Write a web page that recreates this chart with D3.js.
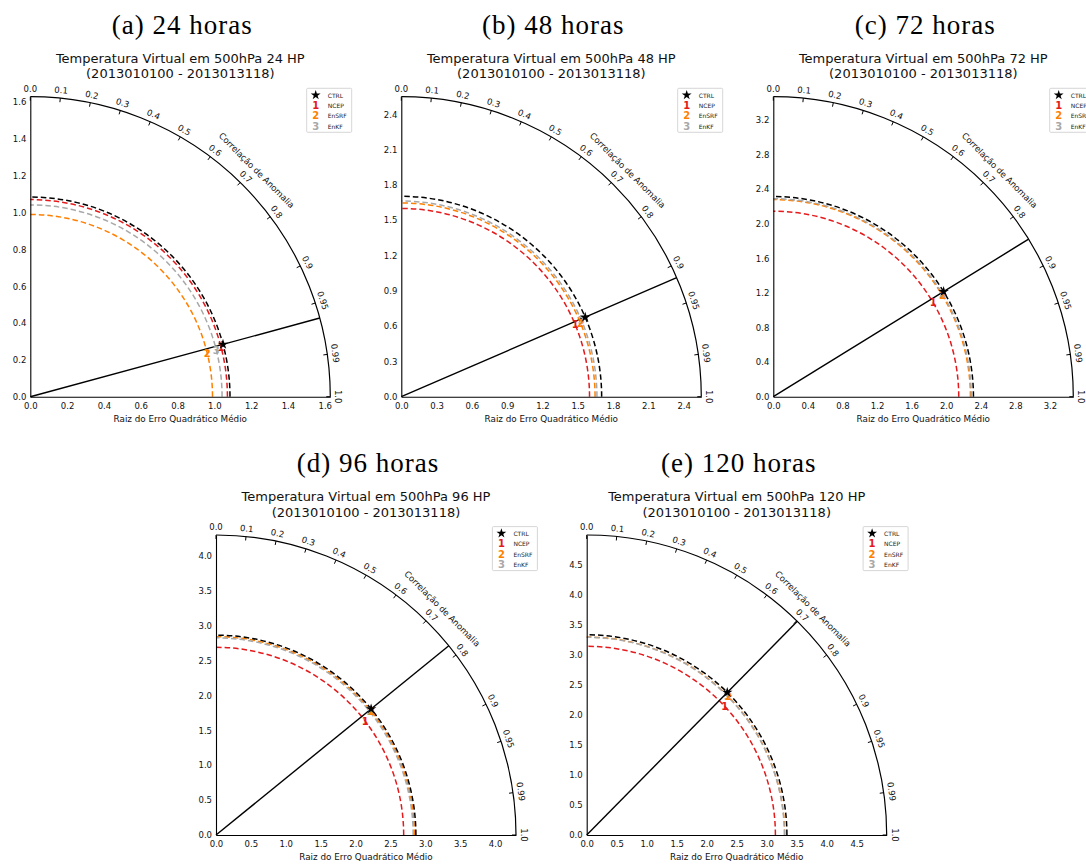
<!DOCTYPE html>
<html>
<head>
<meta charset="utf-8">
<script src="https://cdn.jsdelivr.net/npm/d3@7"></script>
<style>
  html, body { margin: 0; padding: 0; background: #fff; }
  svg { display: block; }
</style>
</head>
<body>
<script>
// ---------------- DATA ----------------
const captions = ["(a) 24 horas", "(b) 48 horas", "(c) 72 horas", "(d) 96 horas", "(e) 120 horas"];
const titles = [
  "Temperatura Virtual em 500hPa 24 HP",
  "Temperatura Virtual em 500hPa 48 HP",
  "Temperatura Virtual em 500hPa 72 HP",
  "Temperatura Virtual em 500hPa 96 HP",
  "Temperatura Virtual em 500hPa 120 HP"
];
const subtitle = "(2013010100 - 2013013118)";
const seriesNames = ["CTRL", "NCEP", "EnSRF", "EnKF"];
const seriesMarks = ["star", "1", "2", "3"];

// standard deviation (radius) and anomaly correlation per panel
const ctrlStd   = [1.085, 1.703, 2.315, 2.865, 3.337];
const ctrlCorr  = [0.965, 0.918, 0.851, 0.776, 0.702];
const ncepStd   = [1.071, 1.600, 2.145, 2.690, 3.145];
const ncepCorr  = [0.968, 0.924, 0.862, 0.795, 0.731];
const ensrfStd  = [0.990, 1.647, 2.280, 2.843, 3.300];
const ensrfCorr = [0.971, 0.925, 0.858, 0.784, 0.716];
const enkfStd   = [1.042, 1.663, 2.290, 2.826, 3.295];
const enkfCorr  = [0.970, 0.920, 0.855, 0.781, 0.712];

const axisMax = [1.63, 2.55, 3.47, 4.30, 5.00];
const radialTicks = [
  [0.0, 0.2, 0.4, 0.6, 0.8, 1.0, 1.2, 1.4, 1.6],
  [0.0, 0.3, 0.6, 0.9, 1.2, 1.5, 1.8, 2.1, 2.4],
  [0.0, 0.4, 0.8, 1.2, 1.6, 2.0, 2.4, 2.8, 3.2],
  [0.0, 0.5, 1.0, 1.5, 2.0, 2.5, 3.0, 3.5, 4.0],
  [0.0, 0.5, 1.0, 1.5, 2.0, 2.5, 3.0, 3.5, 4.0, 4.5]
];
const corrTicks = [0.0, 0.1, 0.2, 0.3, 0.4, 0.5, 0.6, 0.7, 0.8, 0.9, 0.95, 0.99, 1.0];
const corrTickLabels = ["0.0", "0.1", "0.2", "0.3", "0.4", "0.5", "0.6", "0.7", "0.8", "0.9", "0.95", "0.99", "1.0"];
const xLabel = "Raiz do Erro Quadrático Médio";
const corrLabel = "Correlação de Anomalia";

// ---------------- STYLE / LAYOUT ----------------
const colors = { CTRL: "#000000", NCEP: "#e41a1c", EnSRF: "#ff7f00", EnKF: "#a8a8a8" };
const origins = [[30.3, 396.7], [401.3, 396.7], [773.3, 396.7], [216, 835], [586.7, 835]];
const R = 300;
const sansFont = "'DejaVu Sans', sans-serif";

const svg = d3.select("body").append("svg")
  .attr("width", 1086).attr("height", 864)
  .attr("viewBox", "0 0 1086 864");
svg.append("rect").attr("width", 1086).attr("height", 864).attr("fill", "#fff");

function quarterArc(rr) {
  const p = d3.path();
  p.moveTo(rr, 0);
  p.arc(0, 0, rr, 0, -Math.PI / 2, true);
  return p.toString();
}

captions.forEach((cap, i) => {
  const [ox, oy] = origins[i];
  const g = svg.append("g").attr("transform", `translate(${ox},${oy})`);
  const r = d3.scaleLinear().domain([0, axisMax[i]]).range([0, R]);
  const yS = d3.scaleLinear().domain([0, axisMax[i]]).range([0, -R]);
  const pos = (s, c) => {
    const th = Math.acos(c);
    return [r(s) * Math.cos(th), -r(s) * Math.sin(th)];
  };

  // caption and title
  g.append("text").attr("x", 152).attr("y", -363)
    .attr("text-anchor", "middle")
    .attr("font-family", "'Liberation Serif', serif")
    .attr("font-size", 27).attr("letter-spacing", 1)
    .attr("fill", "#000").text(cap);
  g.append("text").attr("x", 150).attr("y", -334)
    .attr("text-anchor", "middle").attr("font-family", sansFont)
    .attr("font-size", 13).attr("fill", "#111").text(titles[i]);
  g.append("text").attr("x", 150).attr("y", -318.5)
    .attr("text-anchor", "middle").attr("font-family", sansFont)
    .attr("font-size", 13).attr("fill", "#111").text(subtitle);

  // std dashed arcs
  const arcSeries = [
    ["NCEP", ncepStd[i]], ["EnSRF", ensrfStd[i]], ["EnKF", enkfStd[i]], ["CTRL", ctrlStd[i]]
  ];
  arcSeries.forEach(([name, s]) => {
    g.append("path").attr("d", quarterArc(r(s)))
      .attr("fill", "none").attr("stroke", colors[name])
      .attr("stroke-width", 1.5).attr("stroke-dasharray", "5.5,3");
  });

  // outer arc
  g.append("path").attr("d", quarterArc(R))
    .attr("fill", "none").attr("stroke", "#000").attr("stroke-width", 1.2);

  // straight axes
  const xAx = g.append("g").call(d3.axisBottom(r).tickValues(radialTicks[i])
    .tickFormat(d3.format(".1f")).tickSize(0).tickPadding(6.3));
  const yAx = g.append("g").call(d3.axisLeft(yS).tickValues(radialTicks[i])
    .tickFormat(d3.format(".1f")).tickSize(0).tickPadding(4));
  [xAx, yAx].forEach(ax => {
    ax.select(".domain").attr("stroke", "#000").attr("stroke-width", 1.1);
    ax.selectAll("text").attr("font-family", sansFont).attr("font-size", 8.5).attr("fill", "#111");
  });

  g.append("text").attr("x", 150).attr("y", 25)
    .attr("text-anchor", "middle").attr("font-family", sansFont)
    .attr("font-size", 8.8).attr("fill", "#111").text(xLabel);

  // correlation ticks and labels
  corrTicks.forEach((c, k) => {
    const th = Math.acos(c);
    const cs = Math.cos(th), sn = Math.sin(th);
    g.append("line")
      .attr("x1", R * cs).attr("y1", -R * sn)
      .attr("x2", (R - 4) * cs).attr("y2", -(R - 4) * sn)
      .attr("stroke", "#000").attr("stroke-width", 1);
    const lr = R + 8;
    const rot = 90 - th * 180 / Math.PI;
    g.append("text")
      .attr("transform", `translate(${lr * cs},${-lr * sn}) rotate(${rot})`)
      .attr("text-anchor", "middle").attr("dominant-baseline", "central")
      .attr("font-family", sansFont).attr("font-size", 8.5).attr("fill", "#111")
      .text(corrTickLabels[k]);
  });
  g.append("text")
    .attr("transform", `translate(${320 * Math.SQRT1_2},${-320 * Math.SQRT1_2}) rotate(45)`)
    .attr("text-anchor", "middle").attr("dominant-baseline", "central")
    .attr("font-family", sansFont).attr("font-size", 8.6).attr("fill", "#111")
    .text(corrLabel);

  // correlation line through CTRL
  const thC = Math.acos(ctrlCorr[i]);
  g.append("line").attr("x1", 0).attr("y1", 0)
    .attr("x2", R * Math.cos(thC)).attr("y2", -R * Math.sin(thC))
    .attr("stroke", "#000").attr("stroke-width", 1.4);

  // markers
  const pts = [
    ["EnKF", "3", enkfStd[i], enkfCorr[i]],
    ["EnSRF", "2", ensrfStd[i], ensrfCorr[i]],
    ["NCEP", "1", ncepStd[i], ncepCorr[i]]
  ];
  pts.forEach(([name, lab, s, c]) => {
    const [px, py] = pos(s, c);
    g.append("text").attr("x", px).attr("y", py)
      .attr("text-anchor", "middle").attr("dominant-baseline", "central")
      .attr("font-family", sansFont).attr("font-weight", "bold")
      .attr("font-size", 10).attr("fill", colors[name]).text(lab);
  });
  const [sx, sy] = pos(ctrlStd[i], ctrlCorr[i]);
  g.append("path").attr("d", d3.symbol(d3.symbolStar, 34)())
    .attr("transform", `translate(${sx},${sy})`).attr("fill", "#000");

  // legend
  const lg = g.append("g").attr("transform", "translate(276.4,-308.4)");
  lg.append("rect").attr("width", 45).attr("height", 44).attr("rx", 1)
    .attr("fill", "#fff").attr("stroke", "#cccccc").attr("stroke-width", 0.8);
  seriesNames.forEach((name, k) => {
    const yy = 6.8 + k * 10.4;
    if (seriesMarks[k] === "star") {
      lg.append("path").attr("d", d3.symbol(d3.symbolStar, 30)())
        .attr("transform", `translate(9,${yy})`).attr("fill", "#000");
    } else {
      lg.append("text").attr("x", 9).attr("y", yy)
        .attr("text-anchor", "middle").attr("dominant-baseline", "central")
        .attr("font-family", sansFont).attr("font-weight", "bold")
        .attr("font-size", 10).attr("fill", colors[name]).text(seriesMarks[k]);
    }
    lg.append("text").attr("x", 21).attr("y", yy)
      .attr("dominant-baseline", "central")
      .attr("font-family", sansFont).attr("font-size", 6)
      .attr("fill", "#222").text(name);
  });
});
</script>
</body>
</html>
